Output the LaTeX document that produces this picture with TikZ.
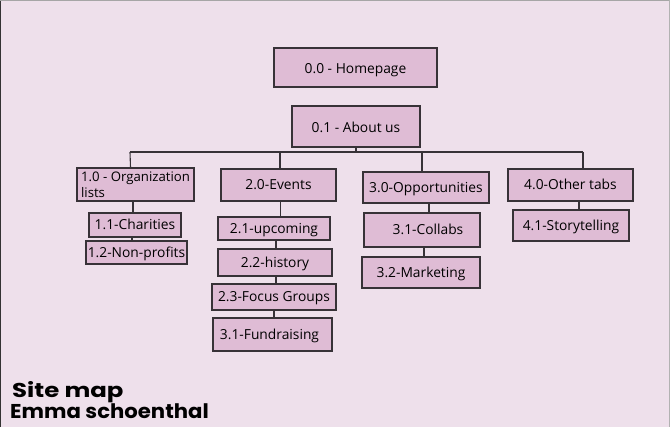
\documentclass[tikz,border=0pt]{standalone}
\usepackage{fontspec}
\setmainfont{Open Sans}
\newfontfamily\handfont{Poppins}
\definecolor{bgc}{RGB}{238,224,235}
\definecolor{boxc}{RGB}{223,188,213}
\definecolor{edgec}{RGB}{55,50,55}
\begin{document}
\begin{tikzpicture}[x=1pt,y=-1pt,
  pg/.style={draw=edgec,line width=1.2pt,fill=boxc,inner sep=0pt,font=\fontsize{13.8}{15.5}\selectfont,text height=11pt,text depth=1pt},
  link/.style={draw=edgec,line width=1.1pt},
  hand/.style={anchor=base west,inner sep=0pt,font=\handfont\bfseries\fontsize{20}{22}\selectfont}]
\useasboundingbox (0,0) rectangle (670,427);
\fill[bgc] (0,0) rectangle (670,427);
\draw[line width=2pt,black!80] (0,0) -- (0,427);
\draw[line width=1.5pt,gray!70] (0,0) -- (670,0);
\draw[line width=1.5pt,gray!60] (670,0) -- (670,427);
% top
\node[pg,minimum width=163pt,minimum height=39pt,text height=13pt,text depth=0pt] (home) at (355.5,67.5) {0.0 - Homepage};
\node[pg,minimum width=128pt,minimum height=41pt,text height=13pt,text depth=0pt] (about) at (356,126.5) {0.1 - About us};
% level 1
\node[pg,minimum width=117pt,minimum height=33pt,align=left,text height=,text depth=,font=\fontsize{13.2}{16.5}\selectfont] (org) at (135.5,184.5) {1.0 - Organization\\lists};
\node[pg,minimum width=115pt,minimum height=32pt] (ev) at (278.5,185) {2.0-Events};
\node[pg,minimum width=126pt,minimum height=31pt] (opp) at (426,187.5) {3.0-Opportunities};
\node[pg,minimum width=125pt,minimum height=32pt] (oth) at (570.5,185) {4.0-Other tabs};
% branch 1
\node[pg,minimum width=92pt,minimum height=24pt] (char) at (135,225) {1.1-Charities};
\node[pg,minimum width=101pt,minimum height=23pt] (np) at (136.5,252.5) {1.2-Non-profits};
% branch 2
\node[pg,minimum width=112pt,minimum height=23pt] (up) at (274,228.5) {2.1-upcoming};
\node[pg,minimum width=114pt,minimum height=27pt] (hist) at (275,262.5) {2.2-history};
\node[pg,minimum width=124pt,minimum height=26pt] (fg) at (274,297) {2.3-Focus Groups};
\node[pg,minimum width=119pt,minimum height=33pt] (fund) at (272.5,334.5) {\hspace*{-6pt}3.1-Fundraising};
% branch 3
\node[pg,minimum width=116pt,minimum height=34pt] (col) at (422,230) {\hspace*{12pt}3.1-Collabs};
\node[pg,minimum width=118pt,minimum height=31pt] (mkt) at (421,272.5) {3.2-Marketing};
% branch 4
\node[pg,minimum width=116pt,minimum height=31pt] (story) at (571,225.5) {4.1-Storytelling};
% bus
\coordinate (busL) at (130,152);
\coordinate (busR) at (583,152);
\draw[link] (busL) -- (busR);
\draw[link] (about.south) -- (about.south |- busL);
\draw[link] (busL) -- ([xshift=-5pt]org.north);
\draw[link] ([xshift=1.5pt]ev.north |- busL) -- ([xshift=1.5pt]ev.north);
\draw[link] ([xshift=-4pt]opp.north |- busL) -- ([xshift=-4pt]opp.north);
\draw[link] (busR) -- (busR |- oth.north);
% children
\draw[link] ([xshift=-2.5pt]org.south) -- ([xshift=-2.5pt]org.south |- char.north);
\draw[link] ([xshift=-3.5pt]org.south |- char.south) -- ([xshift=-3.5pt]org.south |- np.north);
\draw[link] ([xshift=2pt]ev.south) -- ([xshift=2pt]ev.south |- up.north);
\draw[link] ([xshift=2pt]up.south) -- ([xshift=2pt]up.south |- hist.north);
\draw[link] ([xshift=2pt]up.south |- hist.south) -- ([xshift=2pt]up.south |- fg.north);
\draw[link] (fg.south) -- (fg.south |- fund.north);
\draw[link] ([xshift=3pt]opp.south) -- ([xshift=3pt]opp.south |- col.north);
\draw[link] ([xshift=2pt]col.south) -- ([xshift=2pt]col.south |- mkt.north);
\draw[link] ([xshift=8.5pt]oth.south) -- ([xshift=8.5pt]oth.south |- story.north);
% handwriting
\node[hand,xscale=1.22] (t1) at (12,398) {Site map};
\node[hand,xscale=1.06] (t2) at (10,419) {Emma schoenthal};
\end{tikzpicture}
\end{document}
